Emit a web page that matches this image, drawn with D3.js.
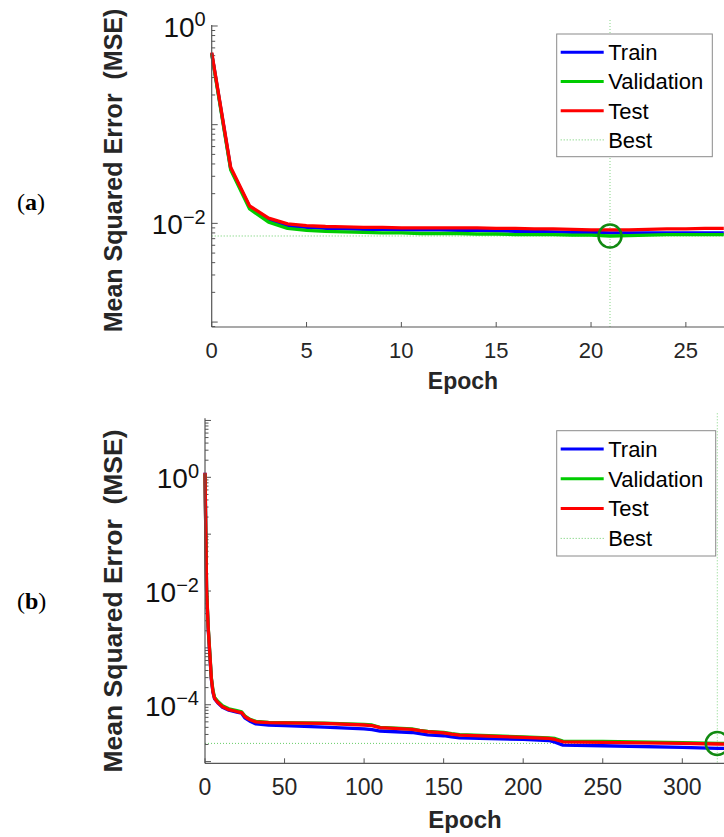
<!DOCTYPE html>
<html>
<head>
<meta charset="utf-8">
<script src="https://cdn.jsdelivr.net/npm/d3@7"></script>
<style>
  html, body { margin: 0; padding: 0; background: #fff; }
  svg { display: block; }
  text { font-family: "Liberation Sans", Arial, Helvetica, sans-serif; }
</style>
</head>
<body>
<svg id="chart" width="724" height="837"></svg>
<script>
// ---------------- DATA ----------------
// Panel (a)
const epochsA = [0,1,2,3,4,5,6,7,8,9,10,11,12,13,14,15,16,17,18,19,20,21,22,23,24,25,26,27];
const trainA = [0.53,0.036,0.0147,0.0108,0.0094,0.0091,0.0089,0.0088,0.0087,0.0087,0.0086,0.0086,0.0086,0.0085,0.0085,0.0084,0.0083,0.0083,0.0082,0.0081,0.0081,0.0080,0.0080,0.0080,0.0080,0.0080,0.0080,0.0080];
const validA = [0.52,0.035,0.0140,0.0103,0.0089,0.0085,0.0083,0.0082,0.0081,0.0080,0.0080,0.0079,0.0079,0.0079,0.0078,0.0078,0.0077,0.0077,0.0077,0.0076,0.0076,0.00745,0.0075,0.0076,0.0077,0.0077,0.0077,0.0077];
const testA  = [0.54,0.037,0.0150,0.0113,0.0099,0.0095,0.0093,0.0092,0.0091,0.0091,0.0090,0.0090,0.0090,0.0090,0.0090,0.0089,0.0089,0.0088,0.0088,0.0087,0.0086,0.0086,0.0086,0.0087,0.0088,0.0088,0.0089,0.0089];
const bestEpochA = 21;
const bestValA = 0.00745;
const maxEpochA = 27;
const xTicksA = [0,5,10,15,20,25];
const yTicksA = [1, 0.01];
const yTickExpA = ["0", "\u22122"];

// Panel (b)
const epochsB = [0,1,2,3,4,5,6,8,11,15,20,23,25,28,32,40,50,75,100,105,110,130,135,140,150,155,160,200,216,220,225,250,300,322,328];
const trainB = [1.2,0.0100,2.2e-3,7.6e-4,2.8e-4,1.65e-4,1.28e-4,1.08e-4,9.0e-5,8.0e-5,7.4e-5,7.1e-5,5.9e-5,5.2e-5,4.6e-5,4.4e-5,4.3e-5,4.05e-5,3.75e-5,3.65e-5,3.45e-5,3.25e-5,3.1e-5,2.95e-5,2.85e-5,2.72e-5,2.62e-5,2.46e-5,2.35e-5,2.2e-5,1.95e-5,1.9e-5,1.78e-5,1.71e-5,1.70e-5];
const validB = [1.15,0.0110,2.4e-3,8.5e-4,3.0e-4,1.8e-4,1.35e-4,1.15e-4,9.6e-5,8.5e-5,7.9e-5,7.5e-5,6.4e-5,5.6e-5,5.1e-5,4.9e-5,4.85e-5,4.75e-5,4.5e-5,4.4e-5,4.0e-5,3.75e-5,3.55e-5,3.4e-5,3.25e-5,3.1e-5,2.98e-5,2.72e-5,2.62e-5,2.55e-5,2.3e-5,2.27e-5,2.15e-5,2.09e-5,2.08e-5];
const testB  = [1.2,0.0105,2.3e-3,8.0e-4,2.9e-4,1.7e-4,1.3e-4,1.1e-4,9.2e-5,8.2e-5,7.6e-5,7.3e-5,6.2e-5,5.5e-5,5.0e-5,4.85e-5,4.8e-5,4.7e-5,4.4e-5,4.3e-5,3.95e-5,3.7e-5,3.5e-5,3.35e-5,3.2e-5,3.05e-5,2.93e-5,2.67e-5,2.56e-5,2.45e-5,2.23e-5,2.18e-5,2.09e-5,2.04e-5,2.03e-5];
const bestEpochB = 322;
const bestValB = 2.09e-5;
const maxEpochB = 328;
const xTicksB = [0,50,100,150,200,250,300];
const yTicksB = [1, 0.01, 1e-4];
const yTickExpB = ["0", "\u22122", "\u22124"];

const legendLabels = ["Train", "Validation", "Test", "Best"];
const seriesColors = ["#0000ff", "#00cc00", "#ff0000"];

// ---------------- DRAW ----------------
const svg = d3.select("#chart");
const W = 724;

function panel(cfg) {
  const g = svg.append("g");
  const x = d3.scaleLinear().domain([0, cfg.xRef]).range([cfg.left, cfg.right]);
  const y = d3.scaleLog().domain(cfg.yDomain).range([cfg.bottom, cfg.top]);

  const axisColor = "#555";

  // y ticks (major+minor)
  const lo = Math.floor(Math.log10(cfg.yDomain[0]));
  const hi = Math.ceil(Math.log10(cfg.yDomain[1]));
  const tickVals = [];
  for (let e = lo; e <= hi; e++) {
    for (let m = 1; m <= 9; m++) {
      const v = m * Math.pow(10, e);
      if (v >= cfg.yDomain[0] && v <= cfg.yDomain[1]) tickVals.push({v, major: m === 1});
    }
  }
  g.selectAll(".ytick").data(tickVals).enter().append("line")
    .attr("x1", cfg.left).attr("x2", d => cfg.left + (d.major ? 6 : 3.5))
    .attr("y1", d => y(d.v)).attr("y2", d => y(d.v))
    .attr("stroke", axisColor).attr("stroke-width", 1);

  // x ticks
  g.selectAll(".xtick").data(cfg.xTicks).enter().append("line")
    .attr("x1", d => x(d)).attr("x2", d => x(d))
    .attr("y1", cfg.bottom).attr("y2", cfg.bottom - 5)
    .attr("stroke", axisColor).attr("stroke-width", 1);

  // best lines (dotted)
  g.append("line")
    .attr("x1", cfg.left).attr("x2", W)
    .attr("y1", y(cfg.bestVal)).attr("y2", y(cfg.bestVal))
    .attr("stroke", "#33bb33").attr("stroke-opacity", 0.75)
    .attr("stroke-width", 1).attr("stroke-dasharray", "1,2");
  g.append("line")
    .attr("x1", x(cfg.bestEpoch)).attr("x2", x(cfg.bestEpoch))
    .attr("y1", cfg.top - 5).attr("y2", cfg.bottom)
    .attr("stroke", "#33bb33").attr("stroke-opacity", 0.6)
    .attr("stroke-width", 1).attr("stroke-dasharray", "1,2");

  // series
  const line = d3.line().x(d => x(d[0])).y(d => y(d[1]));
  cfg.series.forEach((s, i) => {
    const pts = cfg.epochs.map((e, k) => [e, s[k]]);
    g.append("path").datum(pts)
      .attr("d", line)
      .attr("fill", "none")
      .attr("stroke", seriesColors[i])
      .attr("stroke-width", 3.3)
      .attr("stroke-linejoin", "round");
  });

  // best circle
  g.append("circle")
    .attr("cx", x(cfg.bestEpoch)).attr("cy", y(cfg.bestVal))
    .attr("r", 11.5)
    .attr("fill", "none").attr("stroke", "#118a11").attr("stroke-width", 2.5);

  // axis lines
  g.append("line").attr("x1", cfg.left).attr("x2", cfg.left)
    .attr("y1", cfg.top).attr("y2", cfg.bottom)
    .attr("stroke", axisColor).attr("stroke-width", 1.2);
  g.append("line").attr("x1", cfg.left).attr("x2", W)
    .attr("y1", cfg.bottom).attr("y2", cfg.bottom)
    .attr("stroke", axisColor).attr("stroke-width", 1.2);

  // y tick labels
  cfg.yTicks.forEach((v, i) => {
    const t = g.append("text")
      .attr("x", cfg.left - 6).attr("y", y(v) + 11)
      .attr("text-anchor", "end").attr("fill", "#111")
      .style("font-size", "28px");
    t.append("tspan").text("10");
    t.append("tspan").attr("dy", -10.5).style("font-size", "20px").text(cfg.yTickExp[i]);
  });

  // x tick labels
  g.selectAll(".xl").data(cfg.xTicks).enter().append("text")
    .attr("x", d => x(d)).attr("y", cfg.bottom + cfg.xTickDy)
    .attr("text-anchor", "middle").attr("fill", "#262626")
    .style("font-size", cfg.xTickSize)
    .text(d => d);

  // x label
  g.append("text")
    .attr("x", cfg.xLabelX).attr("y", cfg.bottom + cfg.xLabelDy)
    .attr("text-anchor", "middle").attr("fill", "#262626")
    .style("font-size", cfg.xLabelSize).style("font-weight", "bold")
    .text("Epoch");

  // y label
  g.append("text")
    .attr("transform", `translate(${cfg.yLabelX},${cfg.yLabelY}) rotate(-90)`)
    .attr("text-anchor", "middle").attr("fill", "#262626")
    .style("font-size", cfg.yLabelSize).style("font-weight", "bold")
    .style("white-space", "pre")
    .text("Mean Squared Error  (MSE)");

  // panel letter
  const pl = g.append("text")
    .attr("x", 17).attr("y", cfg.letterY)
    .attr("fill", "#000")
    .style("font-family", "'Liberation Serif', 'Times New Roman', serif")
    .style("font-size", "24px");
  pl.append("tspan").text("(");
  pl.append("tspan").style("font-weight", "bold").text(cfg.letter);
  pl.append("tspan").text(")");

  // legend
  const L = cfg.legend;
  g.append("rect")
    .attr("x", L.x).attr("y", L.y).attr("width", L.w).attr("height", L.h)
    .attr("fill", "#fff").attr("stroke", "#8a8a8a").attr("stroke-width", 1);
  legendLabels.forEach((lab, i) => {
    const cy = L.y + L.row0 + i * L.rowH;
    const ln = g.append("line")
      .attr("x1", L.x + 4).attr("x2", L.x + 47)
      .attr("y1", cy).attr("y2", cy);
    if (i < 3) {
      ln.attr("stroke", seriesColors[i]).attr("stroke-width", 3);
    } else {
      ln.attr("stroke", "#33bb33").attr("stroke-opacity", 0.75)
        .attr("stroke-width", 1).attr("stroke-dasharray", "1,2");
    }
    g.append("text")
      .attr("x", L.x + 51.5).attr("y", cy + 7.8)
      .attr("fill", "#000").style("font-size", "22px")
      .text(lab);
  });
}

panel({
  epochs: epochsA, series: [trainA, validA, testA],
  xRef: maxEpochA, bestEpoch: bestEpochA, bestVal: bestValA,
  left: 211.7, right: 723.8, top: 25, bottom: 327,
  yDomain: [Math.pow(10, -3.05), Math.pow(10, 0.01)],
  xTicks: xTicksA, yTicks: yTicksA, yTickExp: yTickExpA,
  xTickDy: 31, xTickSize: "22px", xLabelDy: 62, xLabelSize: "23px",
  xLabelX: 463, yLabelX: 122, yLabelY: 170.5, yLabelSize: "25px",
  letter: "a", letterY: 210,
  legend: {x: 556.7, y: 34, w: 155.6, h: 122.7, row0: 18.3, rowH: 29.2}
});

panel({
  epochs: epochsB, series: [trainB, validB, testB],
  xRef: 300, bestEpoch: bestEpochB, bestVal: bestValB,
  left: 205, right: 682.3, top: 418.3, bottom: 763.3,
  yDomain: [Math.pow(10, -5.03), Math.pow(10, 1.038)],
  xTicks: xTicksB, yTicks: yTicksB, yTickExp: yTickExpB,
  xTickDy: 32, xTickSize: "23px", xLabelDy: 65, xLabelSize: "24px",
  xLabelX: 465, yLabelX: 122, yLabelY: 601, yLabelSize: "26.5px",
  letter: "b", letterY: 609,
  legend: {x: 556.7, y: 430.7, w: 159, h: 125.3, row0: 18.3, rowH: 29.8}
});
</script>
</body>
</html>
